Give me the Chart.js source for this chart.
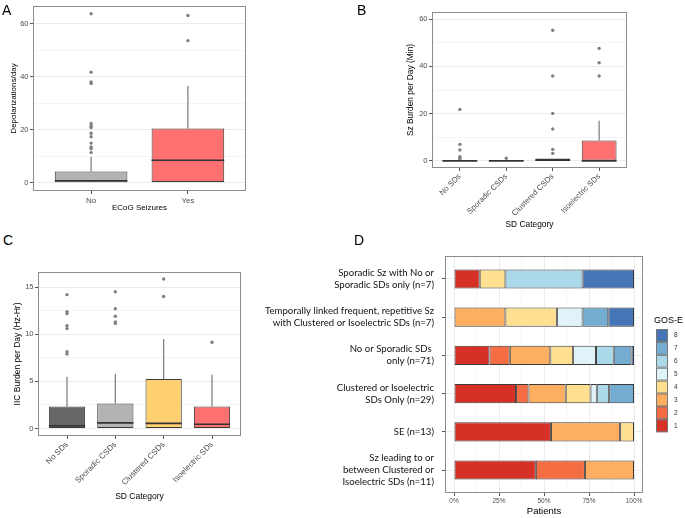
<!DOCTYPE html>
<html>
<head>
<meta charset="utf-8">
<script src="https://cdn.jsdelivr.net/npm/chart.js@4.4.1/dist/chart.umd.min.js"></script>
<style>
  body { margin: 0; background: #fff; }
  #fig { position: relative; width: 685px; height: 518px; overflow: hidden; font-family: "Liberation Sans", Arial, sans-serif; }
  #fig canvas { position: absolute; }
  .lab { position: absolute; font-size: 14px; line-height: 14px; color: #000; }
</style>
</head>
<body>
<div id="fig">
  <canvas id="chartA" width="250" height="218" style="left:0;top:0"></canvas>
  <canvas id="chartB" width="345" height="232" style="left:340px;top:0"></canvas>
  <canvas id="chartC" width="245" height="260" style="left:0;top:258px"></canvas>
  <canvas id="chartD" width="445" height="288" style="left:240px;top:230px"></canvas>
  <div class="lab" style="left:2px;top:3px">A</div>
  <div class="lab" style="left:357px;top:3px">B</div>
  <div class="lab" style="left:3px;top:233px">C</div>
  <div class="lab" style="left:354px;top:233px">D</div>
</div>
<script>
// A: depolarizations per day by ECoG seizures
var seizCats = ['No', 'Yes'];
var seizQ1 = [0.1, 0];
var seizMed = [0.7, 8.4];
var seizQ3 = [4.2, 20.4];
var seizLo = [0, 0];
var seizHi = [9.7, 36.6];
var seizOut = [
  [11.3, 12.8, 13.4, 14.9, 17.3, 18.6, 20.8, 21.4, 22.3, 37.4, 38.0, 41.7, 63.8],
  [53.6, 63.1]
];
var seizColors = ['#b3b3b3', '#ff7070'];

// B and C share the SD categories
var sdCats = ['No SDs', 'Sporadic CSDs', 'Clustered CSDs', 'Isoelectric SDs'];
var sdColors = ['#666666', '#b3b3b3', '#ffd070', '#ff7070'];

// B: seizure burden per day (min)
var szQ1 = [0, 0, 0, 0];
var szMed = [0, 0, 0.3, 0];
var szQ3 = [0.3, 0.2, 1.0, 8.6];
var szLo = [0, 0, 0, 0];
var szHi = [0.3, 0.2, 1.0, 17.0];
var szOut = [
  [0.8, 1.1, 1.8, 4.6, 7.0, 21.8],
  [1.1],
  [3.2, 4.9, 13.5, 20.1, 35.9, 55.3],
  [35.9, 41.5, 47.6]
];

// C: IIC burden per day (Hz-Hr)
var iicQ1 = [0, 0, 0, 0];
var iicMed = [0.3, 0.6, 0.55, 0.45];
var iicQ3 = [2.35, 2.65, 5.25, 2.33];
var iicLo = [0, 0, 0, 0];
var iicHi = [5.5, 5.8, 9.5, 5.7];
var iicOut = [
  [7.9, 8.15, 10.6, 10.9, 12.2, 12.4, 14.2],
  [11.15, 11.3, 11.9, 12.7, 14.5],
  [14.0, 15.85],
  [9.15]
];

// D: GOS-E by seizure / SD pattern (patient counts)
var dGroups = [
  ['Sporadic Sz with No or', 'Sporadic SDs only (n=7)'],
  ['Temporally linked frequent, repetitive Sz', 'with Clustered or Isoelectric SDs (n=7)'],
  ['No or Sporadic SDs ', 'only (n=71)'],
  ['Clustered or Isoelectric', 'SDs Only (n=29)'],
  ['SE (n=13)'],
  ['Sz leading to or', 'between Clustered or', 'Isoelectric SDs (n=11)']
];
var groupN = [7, 7, 71, 29, 13, 11];
var gosLevels = ['1', '2', '3', '4', '5', '6', '7', '8'];
var gosColors = ['#d73027', '#f46d43', '#fdae61', '#fee090', '#e0f3f8', '#abd9e9', '#74add1', '#4575b4'];
var gos1 = [1, 0, 14, 10, 7, 5];
var gos2 = [0, 0, 8, 2, 0, 3];
var gos3 = [0, 2, 16, 6, 5, 3];
var gos4 = [1, 2, 9, 4, 1, 0];
var gos5 = [0, 1, 9, 1, 0, 0];
var gos6 = [3, 0, 7, 2, 0, 0];
var gos7 = [0, 1, 7, 4, 0, 0];
var gos8 = [2, 1, 1, 0, 0, 0];
var pctTicks = [0, 25, 50, 75, 100];

Chart.defaults.font.family = '"Liberation Sans", Arial, sans-serif';
Chart.defaults.animation = false;
Chart.defaults.responsive = false;
Chart.defaults.plugins.legend.display = false;
Chart.defaults.plugins.tooltip.enabled = false;

var GRID_MAJOR = '#ebebeb', GRID_MINOR = '#f5f5f5', TICK_COL = '#555', TXT = '#4d4d4d';

// ggplot-like frame around the panel
var panelBorder = {
  id: 'panelBorder',
  afterDraw: function(chart) {
    var a = chart.chartArea, ctx = chart.ctx;
    ctx.save();
    ctx.strokeStyle = '#8c8c8c';
    ctx.lineWidth = 1;
    ctx.strokeRect(a.left + 0.5, a.top + 0.5, a.right - a.left - 1, a.bottom - a.top - 1);
    ctx.restore();
  }
};

// whiskers + median for the floating bars that act as boxes
var boxParts = {
  id: 'boxParts',
  beforeDatasetsDraw: function(chart) {
    var ds = chart.data.datasets[0], meta = chart.getDatasetMeta(0), y = chart.scales.y, ctx = chart.ctx;
    ctx.save();
    ctx.strokeStyle = '#7a7a7a';
    ctx.lineWidth = 1.2;
    meta.data.forEach(function(bar, i) {
      ctx.beginPath();
      ctx.moveTo(bar.x, y.getPixelForValue(ds.highs[i]));
      ctx.lineTo(bar.x, y.getPixelForValue(ds.q3s[i]));
      ctx.moveTo(bar.x, y.getPixelForValue(ds.q1s[i]));
      ctx.lineTo(bar.x, y.getPixelForValue(ds.lows[i]));
      ctx.stroke();
    });
    ctx.restore();
  },
  afterDatasetsDraw: function(chart) {
    var ds = chart.data.datasets[0], meta = chart.getDatasetMeta(0), y = chart.scales.y, ctx = chart.ctx;
    ctx.save();
    ctx.strokeStyle = '#333';
    ctx.lineWidth = 1.6;
    meta.data.forEach(function(bar, i) {
      var py = y.getPixelForValue(ds.medians[i]);
      ctx.beginPath();
      ctx.moveTo(bar.x - bar.width / 2, py);
      ctx.lineTo(bar.x + bar.width / 2, py);
      ctx.stroke();
    });
    ctx.restore();
  }
};

function boxChart(id, cats, q1, med, q3, lo, hi, outs, colors, o) {
  var boxes = cats.map(function(c, i) { return {x: i, y: [q1[i], q3[i]]}; });
  var pts = [];
  outs.forEach(function(arr, i) { arr.forEach(function(v) { pts.push({x: i, y: v}); }); });
  var yTicks = [];
  for (var v = 0; v <= o.yTop; v += o.yStep / 2) yTicks.push(v);

  return new Chart(document.getElementById(id), {
    type: 'bar',
    data: {
      datasets: [{
        type: 'bar',
        data: boxes,
        backgroundColor: colors,
        borderColor: '#3a3a3a',
        borderWidth: 1,
        borderSkipped: false,
        barPercentage: 0.75,
        categoryPercentage: 1,
        medians: med, q1s: q1, q3s: q3, lows: lo, highs: hi
      }, {
        type: 'scatter',
        data: pts,
        pointRadius: 1.7,
        pointBackgroundColor: '#808080',
        pointBorderWidth: 0
      }]
    },
    options: {
      layout: { padding: { top: o.padTop, right: o.padRight, left: 0, bottom: 0 } },
      scales: {
        x: {
          type: 'linear',
          offset: false,
          min: -0.6,
          max: cats.length - 0.4,
          afterBuildTicks: function(s) { s.ticks = cats.map(function(c, i) { return {value: i}; }); },
          afterFit: function(s) { s.height = o.xH; },
          border: { display: false },
          grid: { offset: false, color: 'rgba(0,0,0,0)', tickColor: TICK_COL, tickLength: 3 },
          ticks: {
            autoSkip: false,
            minRotation: o.rot, maxRotation: o.rot,
            padding: o.xTickPad,
            color: TXT,
            font: { size: o.xTickSize },
            callback: function(v) { return cats[v]; }
          },
          title: { display: true, text: o.xTitle, color: '#000', font: { size: o.titleSize }, padding: { top: 0, bottom: o.xTitlePad } }
        },
        y: {
          type: 'linear',
          min: o.yMin,
          max: o.yMax,
          afterBuildTicks: function(s) { s.ticks = yTicks.map(function(v) { return {value: v}; }); },
          afterFit: function(s) { s.width = o.yW; },
          border: { display: false },
          grid: {
            color: function(c) { return (c.tick && c.tick.value % o.yStep) ? GRID_MINOR : GRID_MAJOR; },
            tickColor: function(c) { return (c.tick && c.tick.value % o.yStep) ? 'rgba(0,0,0,0)' : TICK_COL; },
            tickLength: 3
          },
          ticks: {
            padding: 1.5,
            color: TXT,
            font: { size: o.yTickSize },
            callback: function(v) { return v % o.yStep === 0 ? String(v) : ''; }
          },
          title: { display: true, text: o.yTitle, color: '#000', font: { size: o.titleSize }, padding: { top: o.yTitlePad, bottom: 0 } }
        }
      }
    },
    plugins: [boxParts, panelBorder]
  });
}

boxChart('chartA', seizCats, seizQ1, seizMed, seizQ3, seizLo, seizHi, seizOut, seizColors, {
  padTop: 3, padRight: 4, xH: 27, yW: 33, yMin: -3.2, yMax: 66.7, yTop: 60, yStep: 20,
  rot: 0, xTickPad: 2, xTickSize: 8, yTickSize: 7.5, titleSize: 8,
  xTitle: 'ECoG Seizures', yTitle: 'Depolarizations/day', xTitlePad: 5, yTitlePad: 9
});

boxChart('chartB', sdCats, szQ1, szMed, szQ3, szLo, szHi, szOut, sdColors, {
  padTop: 12, padRight: 58, xH: 64, yW: 92, yMin: -3, yMax: 63, yTop: 60, yStep: 20,
  rot: 45, xTickPad: 1, xTickSize: 7.8, yTickSize: 7.5, titleSize: 8.4,
  xTitle: 'SD Category', yTitle: 'Sz Burden per Day (Min)', xTitlePad: 2, yTitlePad: 66
});

boxChart('chartC', sdCats, iicQ1, iicMed, iicQ3, iicLo, iicHi, iicOut, sdColors, {
  padTop: 14, padRight: 2, xH: 82, yW: 38, yMin: -0.79, yMax: 16.6, yTop: 15, yStep: 5,
  rot: 45, xTickPad: 1, xTickSize: 8, yTickSize: 7.5, titleSize: 8.5,
  xTitle: 'SD Category', yTitle: 'IIC Burden per Day (Hz-Hr)', xTitlePad: 16, yTitlePad: 13
});

// D: 100% stacked horizontal bars
var gosCounts = [gos1, gos2, gos3, gos4, gos5, gos6, gos7, gos8];
var dSets = gosCounts.map(function(counts, k) {
  var data = [];
  counts.forEach(function(c, i) { if (c > 0) data.push({x: c / groupN[i] * 100, y: i}); });
  return {
    label: gosLevels[k],
    data: data,
    backgroundColor: gosColors[k],
    borderColor: '#3a3a3a',
    borderWidth: 1,
    borderSkipped: false,
    barPercentage: 0.5,
    categoryPercentage: 1
  };
});

var gosLegend = {
  id: 'gosLegend',
  afterDraw: function(chart) {
    var ctx = chart.ctx, x0 = 416, y0 = 99, h = 12.9;
    ctx.save();
    ctx.font = '9px "Liberation Sans", Arial, sans-serif';
    ctx.fillStyle = '#000';
    ctx.textBaseline = 'middle';
    ctx.fillText('GOS-E', 414, 91);
    ctx.font = '6.5px "Liberation Sans", Arial, sans-serif';
    for (var k = 0; k < gosLevels.length; k++) {
      var idx = gosLevels.length - 1 - k;
      var yy = y0 + k * h;
      ctx.fillStyle = gosColors[idx];
      ctx.fillRect(x0, yy, 12, h);
      ctx.strokeStyle = '#777';
      ctx.lineWidth = 1;
      ctx.strokeRect(x0 + 0.5, yy + 0.5, 11, h - 1);
      ctx.fillStyle = '#333';
      ctx.fillText(gosLevels[idx], 434, yy + h / 2);
    }
    ctx.restore();
  }
};

var pctAll = [];
for (var p = 0; p <= 100; p += 12.5) pctAll.push(p);

new Chart(document.getElementById('chartD'), {
  type: 'bar',
  data: { datasets: dSets },
  options: {
    indexAxis: 'y',
    layout: { padding: { top: 23, right: 42, left: 0, bottom: 0 } },
    scales: {
      x: {
        type: 'linear',
        stacked: true,
        offset: false,
        min: -5,
        max: 105,
        afterBuildTicks: function(s) { s.ticks = pctAll.map(function(v) { return {value: v}; }); },
        afterFit: function(s) { s.height = 25; },
        border: { display: false },
        grid: {
          offset: false,
          color: function(c) { return (c.tick && pctTicks.indexOf(c.tick.value) < 0) ? GRID_MINOR : GRID_MAJOR; },
          tickColor: function(c) { return (c.tick && pctTicks.indexOf(c.tick.value) < 0) ? 'rgba(0,0,0,0)' : TICK_COL; },
          tickLength: 3
        },
        ticks: {
          padding: 1.5,
          color: TXT,
          font: { size: 6.5 },
          callback: function(v) { return pctTicks.indexOf(v) >= 0 ? v + '%' : ''; }
        },
        title: { display: true, text: 'Patients', color: '#000', font: { size: 9.5 }, padding: { top: 0, bottom: 1 } }
      },
      y: {
        type: 'linear',
        stacked: true,
        reverse: true,
        offset: false,
        min: -0.6,
        max: dGroups.length - 0.4,
        afterBuildTicks: function(s) { s.ticks = dGroups.map(function(g, i) { return {value: i}; }); },
        afterFit: function(s) { s.width = 205; },
        border: { display: false },
        grid: { offset: false, color: GRID_MAJOR, tickColor: TICK_COL, tickLength: 3 },
        ticks: {
          padding: 8,
          color: '#111',
          font: { family: 'Lato', size: 9.6, lineHeight: 1.25 },
          callback: function(v) { return dGroups[v]; }
        }
      }
    }
  },
  plugins: [panelBorder, gosLegend]
});
</script>
</body>
</html>
